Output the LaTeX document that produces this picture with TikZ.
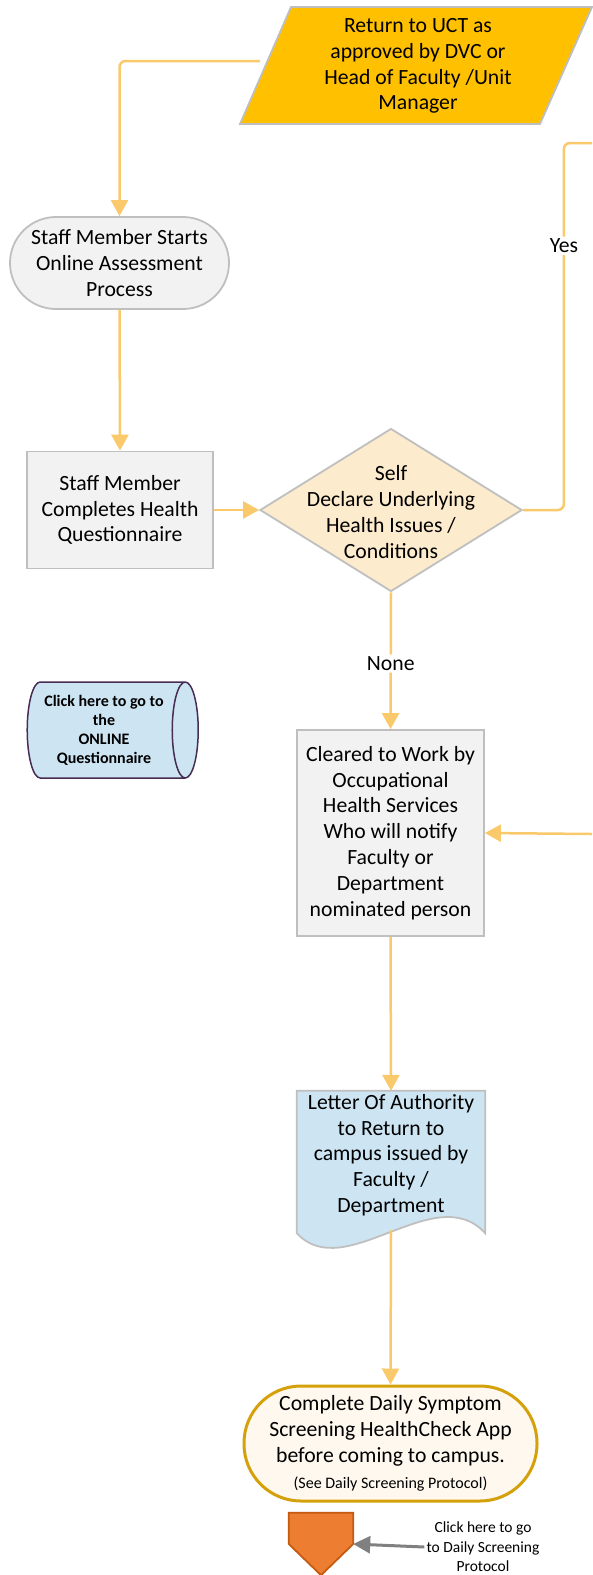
\documentclass[tikz,border=0pt]{standalone}
\usepackage{fontspec}
\setmainfont{Carlito}
\usepackage{tikz}
\usetikzlibrary{calc,shapes.geometric,arrows.meta}

\definecolor{flowc}{RGB}{249,201,107}
\definecolor{edgec}{RGB}{191,191,191}
\definecolor{boxc}{RGB}{242,242,242}
\definecolor{parac}{RGB}{255,192,0}
\definecolor{decc}{RGB}{252,235,204}
\definecolor{docc}{RGB}{205,229,243}
\definecolor{termc}{RGB}{254,248,239}
\definecolor{termd}{RGB}{213,161,10}
\definecolor{cyld}{RGB}{72,44,84}
\definecolor{offc}{RGB}{237,125,49}
\definecolor{offd}{RGB}{197,90,17}
\definecolor{ptrc}{RGB}{128,128,128}

\newcommand{\bigtxt}{\fontsize{21.7}{25.8}\selectfont}
\newcommand{\smalltxt}{\fontsize{15.5}{19.5}\selectfont}

\begin{document}
\begin{tikzpicture}[x=1pt,y=-1pt,
flow/.style={draw=flowc,line width=2.5pt,rounded corners=6pt,-{Triangle[length=16pt,width=17pt]}},
flowline/.style={draw=flowc,line width=2.5pt,rounded corners=6pt},
ptr/.style={draw=ptrc,line width=3pt,-{Triangle[length=17pt,width=17pt]}},
lbl/.style={font=\bigtxt,fill=white,inner sep=2pt},
txt/.style={font=\bigtxt,align=center,inner sep=2pt},
bx/.style={rectangle,draw=edgec,line width=1.8pt,fill=boxc,align=center,font=\bigtxt,inner sep=2pt},
stad/.style={bx,rounded corners=46pt},
term/.style={rectangle,draw=termd,line width=3pt,fill=termc,align=center,font=\bigtxt,inner sep=2pt,rounded corners=57pt},
para/.style={draw=edgec,line width=1.8pt,fill=parac},
dec/.style={diamond,draw=edgec,line width=1.8pt,fill=decc,inner sep=0pt},
docbox/.style={rectangle,inner sep=0pt},
docshp/.style={draw=edgec,line width=1.8pt,fill=docc},
cyl/.style={cylinder,draw=cyld,line width=1.5pt,fill=docc,aspect=0.35,minimum width=96pt,minimum height=171pt,align=center,font=\fontsize{16}{19}\selectfont\bfseries,inner sep=2pt},
offshp/.style={draw=offd,line width=1.8pt,fill=offc}]
	\useasboundingbox (0,0) rectangle (592,1575);
	%return to campus
	\draw[para] (240,124) -- (540,124) -- (592,7) -- (291,7) -- cycle;
	\node[txt] (ret) at (418,66) {Return to UCT as\\approved by DVC or\\Head of Faculty /Unit\\Manager};
	\coordinate (retl) at (260,61);

	%assessment
	\node[stad,minimum width=219pt,minimum height=92pt] (start) at (119.5,263) {Staff Member Starts\\Online Assessment\\Process};
	\node[bx,minimum width=186pt,minimum height=117pt] (qst) at (120,510) {Staff Member\\Completes Health\\Questionnaire};
	\node[dec,minimum width=262pt,minimum height=163pt] (decl) at (391,510) {};
	\node[txt] (decltxt) at (391,512) {Self\\Declare Underlying\\Health Issues /\\Conditions};
	\node[cyl] (olq) at (104,730) {Click here to go to\\the\\ONLINE\\Questionnaire};

	%clearance
	\node[bx,minimum width=187pt,minimum height=206pt] (clr) at (390.5,833) {Cleared to Work by\\Occupational\\Health Services\\Who will notify\\Faculty or\\Department\\nominated person};
	\coordinate (yesout) at (592,143);
	\coordinate (noout) at (592,834);

	%letter
	\node[docbox,minimum width=188pt,minimum height=142pt] (ltr) at (391,1162) {};
	\draw[docshp] (ltr.north west) -- (ltr.north east) -- (ltr.south east)
		.. controls ($(ltr.south east)+(-50,-55)$) and ($(ltr.south west)+(48,52)$) .. (ltr.south west) -- cycle;
	\node[txt] (ltrtxt) at (391,1155) {Letter Of Authority\\to Return to\\campus issued by\\Faculty /\\Department};
	\coordinate (ltrb) at ([yshift=3pt]ltr.south);

	%daily screening
	\node[term,minimum width=293pt,minimum height=115pt] (daily) at (390.5,1443.5) {Complete Daily Symptom\\Screening HealthCheck App\\before coming to campus.\\{\fontsize{16}{19}\selectfont(See Daily Screening Protocol)}};
	\node[docbox,minimum width=64pt,minimum height=62pt] (offp) at (321,1544) {};
	\draw[offshp] (offp.north west) -- (offp.north east) -- (offp.east) -- (offp.south) -- (offp.west) -- cycle;
	\node[txt,font=\smalltxt] (lnk) at (483,1547) {Click here to go\\to Daily Screening\\Protocol};

	\draw[flow] (retl) -| (start.north);
	\draw[flow] (start.south) -- (qst.north);
	\draw[flow] (qst.east) -- (decl.west);
	\draw[flowline] (decl.east) -- ++(41,0) |- node[lbl,pos=0.36] {Yes} (yesout);
	\draw[flow] (decl.south) -- node[lbl,pos=0.52] {None} (clr.north);
	\draw[flow] (noout) -- (clr.east);
	\draw[flow] (clr.south) -- (ltr.north);
	\draw[flow] (ltrb) -- (daily.north);
	\draw[ptr] (lnk.west) -- (offp.east);
\end{tikzpicture}
\end{document}
